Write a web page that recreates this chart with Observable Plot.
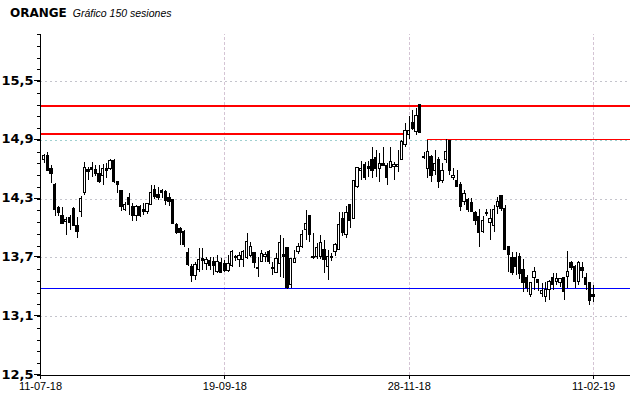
<!DOCTYPE html>
<html>
<head>
<meta charset="utf-8">
<script src="https://cdn.jsdelivr.net/npm/d3@7"></script>
<script src="https://cdn.jsdelivr.net/npm/@observablehq/plot@0.6"></script>
<style>
  html, body { margin: 0; padding: 0; background: #fff; }
  #wrap { position: relative; width: 640px; height: 398px; overflow: hidden; }
  #title { position: absolute; left: 10px; top: 4px; white-space: nowrap; line-height: 16px; }
  #title .t1 { font: bold 12px "DejaVu Sans", sans-serif; color: #000; }
  #title .t2 { font: italic 10.5px "Liberation Sans", Arial, sans-serif; color: #000; margin-left: 6px; }
  svg { shape-rendering: crispEdges; }
  svg text { shape-rendering: auto; }
</style>
</head>
<body>
<div id="wrap">
  <div id="title"><span class="t1">ORANGE</span><span class="t2">Gráfico 150 sesiones</span></div>
</div>
<script>
// Session index 1..150 (each index = one trading session)
const opens = [
14.70,14.74,14.61,14.44,14.21,14.13,14.07,14.11,14.20,14.03,
14.17,14.36,14.60,14.62,14.60,14.56,14.54,14.61,14.61,14.69,
14.47,14.38,14.19,14.31,14.22,14.13,14.22,14.19,14.17,14.24,
14.39,14.34,14.38,14.37,14.31,14.29,14.04,14.00,13.96,13.75,
13.61,13.52,13.58,13.69,13.64,13.67,13.66,13.56,13.65,13.64,
13.57,13.62,13.71,13.68,13.68,13.70,13.72,13.75,13.60,13.66,
13.71,13.76,13.60,13.55,13.64,13.73,13.80,13.42,13.65,13.76,
13.81,13.98,14.13,13.71,13.71,13.71,13.78,13.61,13.70,13.76,
13.78,14.10,13.93,14.24,14.10,14.42,14.59,14.65,14.63,14.70,
14.72,14.61,14.66,14.64,14.62,14.63,14.63,14.70,14.85,14.95,
15.08,14.98,15.26,14.73,14.61,14.73,14.59,14.70,14.49,14.70,
14.89,14.52,14.49,14.44,14.27,14.29,14.26,14.16,14.12,13.96,
14.16,14.06,14.03,14.22,14.33,14.20,13.81,13.70,13.70,13.71,
13.58,13.50,13.32,13.49,13.47,13.33,13.30,13.37,13.49,13.45,
13.44,13.49,13.51,13.65,13.61,13.45,13.60,13.49,13.44,13.32
];
const highs = [
14.76,14.78,14.64,14.46,14.22,14.21,14.11,14.13,14.21,14.11,
14.33,14.67,14.62,14.67,14.64,14.64,14.65,14.66,14.70,14.70,
14.47,14.38,14.27,14.36,14.26,14.24,14.23,14.26,14.26,14.44,
14.44,14.42,14.40,14.39,14.36,14.29,14.05,14.01,13.98,13.80,
13.63,13.65,13.80,13.80,13.70,13.70,13.70,13.72,13.69,13.67,
13.72,13.78,13.72,13.76,13.78,13.95,13.86,13.76,13.70,13.78,
13.76,13.78,13.65,13.74,13.93,13.90,13.80,13.69,13.78,13.85,
13.98,14.18,14.13,13.95,13.85,13.93,13.88,13.78,13.75,13.85,
14.16,14.16,14.22,14.25,14.49,14.62,14.68,14.67,14.68,14.83,
14.80,14.77,14.83,14.66,14.83,14.67,14.80,14.90,15.07,15.14,
15.20,15.22,15.27,14.78,14.90,14.75,14.80,14.72,14.66,14.91,
14.90,14.61,14.59,14.47,14.39,14.31,14.31,14.17,14.19,14.12,
14.19,14.19,14.24,14.32,14.34,14.24,13.82,13.76,13.76,13.74,
13.68,13.52,13.45,13.60,13.48,13.44,13.45,13.47,13.54,13.54,
13.49,13.50,13.77,13.66,13.62,13.66,13.65,13.54,13.44,13.42
];
const lows = [
14.66,14.58,14.46,14.12,14.12,14.04,13.93,13.98,14.02,13.90,
14.11,14.34,14.49,14.52,14.53,14.46,14.44,14.51,14.59,14.46,
14.36,14.17,14.17,14.13,14.07,14.07,14.11,14.13,14.14,14.23,
14.30,14.29,14.31,14.23,14.22,14.04,13.94,13.83,13.81,13.61,
13.45,13.47,13.55,13.57,13.57,13.57,13.52,13.54,13.55,13.55,
13.55,13.60,13.66,13.60,13.60,13.68,13.70,13.59,13.50,13.65,
13.65,13.63,13.52,13.55,13.50,13.49,13.38,13.39,13.64,13.73,
13.80,13.88,13.86,13.68,13.68,13.68,13.54,13.47,13.66,13.71,
13.78,13.92,13.90,14.00,14.10,14.41,14.49,14.49,14.52,14.51,
14.52,14.47,14.63,14.44,14.61,14.49,14.57,14.70,14.83,14.91,
15.00,14.95,14.97,14.70,14.51,14.47,14.54,14.41,14.46,14.66,
14.54,14.49,14.42,14.17,14.24,14.16,14.16,14.03,13.81,13.95,
14.12,13.88,13.96,14.14,14.17,13.78,13.55,13.52,13.52,13.48,
13.35,13.35,13.30,13.37,13.36,13.30,13.25,13.27,13.37,13.42,
13.40,13.27,13.39,13.57,13.39,13.42,13.49,13.37,13.21,13.25
];
const closes = [
14.74,14.59,14.56,14.19,14.16,14.05,14.09,14.06,14.03,13.96,
14.30,14.62,14.58,14.60,14.56,14.47,14.61,14.59,14.69,14.47,
14.44,14.22,14.24,14.24,14.13,14.22,14.13,14.17,14.25,14.36,
14.32,14.31,14.36,14.28,14.27,14.05,13.95,13.95,13.83,13.63,
13.52,13.63,13.68,13.67,13.68,13.62,13.62,13.66,13.55,13.57,
13.64,13.76,13.70,13.72,13.76,13.86,13.81,13.65,13.59,13.74,
13.73,13.66,13.59,13.69,13.85,13.71,13.39,13.69,13.69,13.81,
13.93,14.05,13.93,13.70,13.80,13.85,13.68,13.71,13.71,13.83,
14.04,13.95,14.16,14.08,14.49,14.62,14.61,14.52,14.61,14.59,
14.61,14.66,14.64,14.52,14.68,14.65,14.65,14.88,15.00,15.00,
15.02,15.15,14.97,14.72,14.78,14.54,14.66,14.47,14.59,14.78,
14.59,14.54,14.42,14.22,14.35,14.19,14.17,14.08,13.95,14.08,
14.15,14.10,14.19,14.27,14.20,13.78,13.73,13.55,13.61,13.54,
13.44,13.39,13.44,13.56,13.44,13.36,13.37,13.45,13.42,13.48,
13.48,13.35,13.56,13.60,13.45,13.65,13.57,13.42,13.26,13.30
];

// x-axis tick sessions and labels
const tickSessions = [0, 50, 100, 150];
const tickLabels = ["11-07-18", "19-09-18", "28-11-18", "11-02-19"];
// y-axis labelled ticks
const yTicks = [12.5, 13.1, 13.7, 14.3, 14.9, 15.5];
const yMinorStep = 0.12;
const yMax = 15.98;

// horizontal levels drawn on the chart
const redLevels = [15.25, 14.965, 14.905];
const redStarts = [0, 0, 105];
const redEnds   = [160, 99.6, 160];
const redWidths = [1.5, 1.5, 1.2];
const blueLevels = [13.39];

const candles = opens.map((o, k) => ({
  i: k + 1, open: o, high: highs[k], low: lows[k], close: closes[k]
}));
const up = candles.filter(d => d.close >= d.open);
const down = candles.filter(d => d.close < d.open);
const redTable = redLevels.map((v, k) => ({v, x1: redStarts[k], x2: redEnds[k], w: redWidths[k]}));
const minorTicks = d3.range(0, 30).map(k => +(12.5 + k * yMinorStep).toFixed(2));
const hw = 0.32;

const chart = Plot.plot({
  width: 640,
  height: 398,
  marginLeft: 40,
  marginRight: 10,
  marginTop: 34,
  marginBottom: 23,
  style: {background: "#fff", color: "#000"},
  x: {domain: [0, 160], range: [40, 630], label: null},
  y: {domain: [12.5, yMax], label: null},
  marks: [
    Plot.gridY([13.1, 13.7, 14.3, 15.5], {stroke: "#c4c4cc", strokeOpacity: 1, strokeDasharray: "2,3"}),
    Plot.gridY([14.9], {stroke: "#9fd0d0", strokeOpacity: 1, strokeDasharray: "2,3"}),
    Plot.gridX(tickSessions.slice(1), {stroke: "#d4c4d4", strokeOpacity: 1, strokeDasharray: "3,2", y1: 12.5, y2: yMax}),
    ...redTable.map(r => Plot.ruleY([r.v], {x1: r.x1, x2: r.x2, stroke: "#ff0000", strokeWidth: r.w})),
    Plot.ruleY(blueLevels, {x1: 0, x2: 160, stroke: "#0000ff", strokeWidth: 1.5}),
    Plot.ruleX(candles, {x: "i", y1: "low", y2: "high", stroke: "#000", strokeWidth: 1}),
    Plot.rect(down, {x1: d => d.i - hw, x2: d => d.i + hw, y1: "open", y2: "close", fill: "#000", stroke: "#000", strokeWidth: 1}),
    Plot.rect(up, {x1: d => d.i - hw, x2: d => d.i + hw, y1: "open", y2: "close", fill: "#fff", stroke: "#000", strokeWidth: 1}),
    Plot.ruleY([12.5], {x1: 0, x2: 160, stroke: "#000", strokeWidth: 1}),
    Plot.ruleX([0], {y1: 12.5, y2: yMax, stroke: "#000", strokeWidth: 1}),
    Plot.axisY(minorTicks, {tickSize: 3, tickFormat: () => "", stroke: "#000", label: null}),
    Plot.axisY(yTicks, {
      tickSize: 6, tickPadding: 1, stroke: "#000", label: null,
      tickFormat: d => d.toFixed(1).replace(".", ","),
      fontSize: 13, fontWeight: "bold", fontFamily: "DejaVu Sans", fill: "#000", dy: -1
    }),
    Plot.axisX(tickSessions, {
      tickSize: 4, tickPadding: 3, stroke: "#000", label: null,
      tickFormat: d => tickLabels[tickSessions.indexOf(d)],
      fontSize: 11, fontFamily: "Liberation Sans", fill: "#000"
    })
  ]
});
document.getElementById("wrap").appendChild(chart);
chart.style.position = "absolute";
chart.style.left = "0";
chart.style.top = "0";
document.getElementById("wrap").appendChild(document.getElementById("title"));
</script>
</body>
</html>
